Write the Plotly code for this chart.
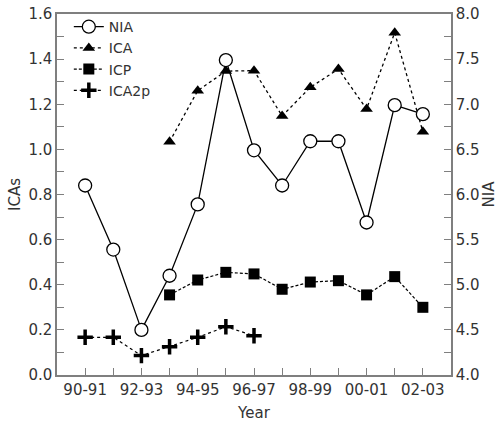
import plotly.graph_objects as go

seasons = ["90-91", "91-92", "92-93", "93-94", "94-95", "95-96", "96-97",
           "97-98", "98-99", "99-00", "00-01", "01-02", "02-03"]
tick_labels = ["90-91", "", "92-93", "", "94-95", "", "96-97",
               "", "98-99", "", "00-01", "", "02-03"]

nia = [6.10, 5.39, 4.50, 5.10, 5.89, 7.49, 6.49, 6.10, 6.59, 6.59, 5.69, 6.99, 6.89]
ica = [None, None, None, 1.034, 1.26, 1.347, 1.349, 1.148, 1.275, 1.356, 1.179, 1.517, 1.078]
icp = [None, None, None, 0.355, 0.421, 0.455, 0.448, 0.38, 0.412, 0.418, 0.355, 0.436, 0.30]
ica2p = [0.167, 0.167, 0.086, 0.125, 0.167, 0.214, 0.174, None, None, None, None, None, None]

FONT = "DejaVu Sans"
TXT = "#333333"
AX = "#7f7f7f"
FS = 15

fig = go.Figure()
fig.add_trace(go.Scatter(
    x=seasons, y=nia, name="NIA", yaxis="y2", mode="lines+markers",
    line=dict(color="black", width=1.3),
    marker=dict(symbol="circle", size=13, color="white", line=dict(color="black", width=1.3)),
))
fig.add_trace(go.Scatter(
    x=seasons, y=ica, name="ICA", mode="lines+markers",
    line=dict(color="black", width=1.3, dash="dot"),
    marker=dict(symbol="triangle-up", size=11, color="black"),
))
fig.add_trace(go.Scatter(
    x=seasons, y=icp, name="ICP", mode="lines+markers",
    line=dict(color="black", width=1.2, dash="3px,2px"),
    marker=dict(symbol="square", size=11, color="black"),
))
fig.add_trace(go.Scatter(
    x=seasons, y=ica2p, name="ICA2p", mode="lines+markers",
    line=dict(color="black", width=1.2, dash="dot"),
    marker=dict(symbol="cross-thin", size=11, color="black", line=dict(color="black", width=3.5)),
))

fig.update_layout(
    width=503, height=423,
    margin=dict(l=57, r=52, t=14, b=48, autoexpand=False),
    paper_bgcolor="white", plot_bgcolor="white",
    font=dict(family=FONT, size=FS, color=TXT),
    showlegend=True,
    legend=dict(x=0.03, y=1.008, xanchor="left", yanchor="top",
                bgcolor="rgba(0,0,0,0)", font=dict(size=14, color=TXT),
                tracegroupgap=0, itemwidth=30),
    xaxis=dict(
        type="category", categoryorder="array", categoryarray=seasons,
        range=[-1, 13], tickmode="array", tickvals=seasons, ticktext=tick_labels,
        ticks="inside", ticklen=7, tickcolor=AX, showline=True, linecolor=AX,
        linewidth=1.5, mirror=True, showgrid=False, zeroline=False, automargin=False,
        title=dict(text="Year", standoff=10, font=dict(size=FS, color=TXT)),
        tickfont=dict(size=FS, color=TXT),
    ),
    yaxis=dict(
        range=[0, 1.6], tickmode="linear", tick0=0, dtick=0.2, tickformat=".1f",
        ticks="inside", ticklen=7, tickcolor=AX, showline=True, linecolor=AX,
        linewidth=1.5, showgrid=False, zeroline=False, automargin=False,
        minor=dict(ticks="inside", ticklen=7, tickcolor=AX, dtick=0.1, showgrid=False),
        title=dict(text="ICAs", standoff=4, font=dict(size=FS, color=TXT)),
        tickfont=dict(size=FS, color=TXT),
    ),
    yaxis2=dict(
        overlaying="y", side="right", range=[4.0, 8.0], tickmode="linear",
        tick0=4, dtick=0.5, tickformat=".1f",
        ticks="inside", ticklen=7, tickcolor=AX, showline=True, linecolor=AX,
        linewidth=1.5, showgrid=False, zeroline=False, automargin=False,
        minor=dict(ticks="inside", ticklen=7, tickcolor=AX, dtick=0.25, showgrid=False),
        title=dict(text="NIA", standoff=2, font=dict(size=FS, color=TXT)),
        tickfont=dict(size=FS, color=TXT),
    ),
)

fig.write_html("out.html")
